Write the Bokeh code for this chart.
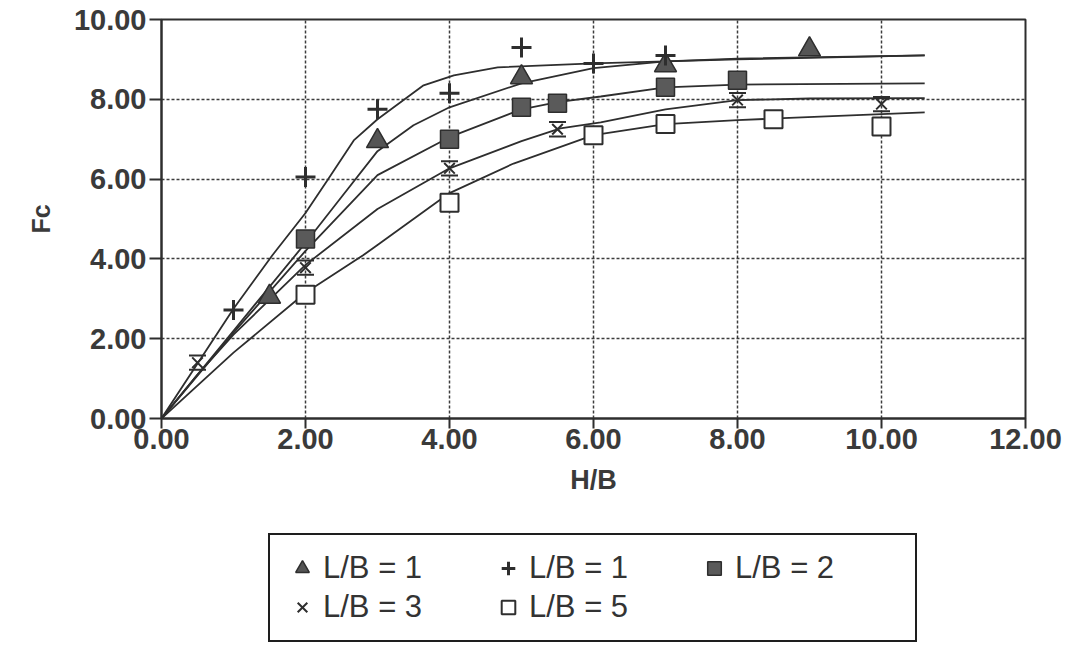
from bokeh.plotting import figure
from bokeh.layouts import column
from bokeh.models import Legend, LegendItem, FixedTicker, PrintfTickFormatter
from bokeh.embed import file_html
from bokeh.resources import INLINE

# ---- axes ----
x_ticks = [0, 2, 4, 6, 8, 10, 12]
y_ticks = [0, 2, 4, 6, 8, 10]

# ---- measured points ----
tri_x = [1.5, 3, 5, 7, 9]
tri_y = [3.05, 6.95, 8.55, 8.85, 9.25]
plus_x = [1, 2, 3, 4, 5, 6, 7]
plus_y = [2.72, 6.05, 7.75, 8.15, 9.3, 8.9, 9.1]
sqf_x = [2, 4, 5, 5.5, 7, 8]
sqf_y = [4.5, 7.0, 7.8, 7.9, 8.3, 8.48]
hg_x = [0.5, 2, 4, 5.5, 8, 10]
hg_y = [1.4, 3.78, 6.27, 7.25, 7.98, 7.88]
sqo_x = [2, 4, 6, 7, 8.5, 10]
sqo_y = [3.1, 5.41, 7.1, 7.38, 7.5, 7.32]

# ---- fitted curves ----
plus_fit_x = [0, 1, 1.54, 2, 2.3, 2.67, 3.0, 3.64, 4.06, 4.67, 6.0, 8.0, 10.6]
plus_fit_y = [0, 2.75, 4.09, 5.15, 5.96, 6.97, 7.5, 8.35, 8.6, 8.8, 8.9, 9.0, 9.1]
tri_fit_x = [0, 1, 1.5, 2, 2.5, 3, 3.5, 4, 5, 6, 7, 8, 10.6]
tri_fit_y = [0, 2.2, 3.3, 4.4, 5.55, 6.7, 7.35, 7.8, 8.4, 8.78, 8.95, 9.02, 9.1]
sqf_fit_x = [0, 1, 2, 3, 4, 5, 5.5, 6.1, 7, 8, 10.6]
sqf_fit_y = [0, 2.15, 4.2, 6.1, 7.05, 7.75, 7.93, 8.07, 8.3, 8.37, 8.4]
hg_fit_x = [0, 0.5, 1, 2, 3, 4, 5, 5.54, 6.1, 7, 8, 9, 10.6]
hg_fit_y = [0, 1.1, 2.1, 3.85, 5.25, 6.27, 6.95, 7.27, 7.42, 7.75, 7.98, 8.02, 8.03]
sqo_fit_x = [0, 1, 2, 2.8, 3, 4, 4.89, 6, 7, 8, 8.55, 10.6]
sqo_fit_y = [0, 1.65, 3.15, 4.09, 4.35, 5.65, 6.39, 7.1, 7.38, 7.48, 7.52, 7.67]

labels = ["L/B = 1", "L/B = 1", "L/B = 2", "L/B = 3", "L/B = 5"]

INK = "#2e2e2e"
FONT = "Liberation Sans"

p = figure(width=1072, height=518, x_range=(0, 12), y_range=(0, 10),
           output_backend="svg", toolbar_location=None, title=None,
           min_border_left=161, min_border_right=47, min_border_top=19,
           min_border_bottom=100, background_fill_color="white",
           border_fill_color="white")

p.outline_line_color = INK
p.outline_line_width = 2

# axes
for ax, ticks in ((p.xaxis[0], x_ticks), (p.yaxis[0], y_ticks)):
    ax.ticker = FixedTicker(ticks=ticks)
    ax.formatter = PrintfTickFormatter(format="%.2f")
    ax.major_label_text_font = FONT
    ax.major_label_text_font_style = "bold"
    ax.major_label_text_font_size = "29px"
    ax.major_label_text_color = "#3a3a3a"
    ax.axis_line_color = INK
    ax.axis_line_width = 2
    ax.major_tick_line_color = INK
    ax.major_tick_line_width = 2
    ax.major_tick_in = 0
    ax.minor_tick_line_color = None
    ax.axis_label_text_font = FONT
    ax.axis_label_text_font_style = "bold"
    ax.axis_label_text_color = "#3a3a3a"

p.xaxis[0].axis_label = "H/B"
p.xaxis[0].axis_label_text_font_size = "27px"
p.xaxis[0].major_tick_out = 10
p.xaxis[0].major_label_standoff = 0
p.xaxis[0].axis_label_standoff = 13

p.yaxis[0].axis_label = "Fc"
p.yaxis[0].axis_label_text_font_size = "25px"
p.yaxis[0].major_tick_out = 12
p.yaxis[0].major_label_standoff = 3
p.yaxis[0].axis_label_standoff = 16

for g, ticks in ((p.xgrid[0], x_ticks), (p.ygrid[0], y_ticks)):
    g.ticker = FixedTicker(ticks=ticks)
    g.grid_line_color = "#3c3c3c"
    g.grid_line_width = 1.5
    g.grid_line_dash = "3 2"

# fitted lines
for fx, fy in ((plus_fit_x, plus_fit_y), (tri_fit_x, tri_fit_y),
               (sqf_fit_x, sqf_fit_y), (hg_fit_x, hg_fit_y),
               (sqo_fit_x, sqo_fit_y)):
    p.line(fx, fy, line_color=INK, line_width=1.8)

# marker styles
tri_style = dict(marker="triangle", fill_color="#555555", line_color=INK, line_width=1.5)
plus_style = dict(marker="cross", line_color=INK, line_width=3)
sqf_style = dict(marker="square", fill_color="#5a5a5a", line_color=INK, line_width=1.5)
hg_style = dict(marker="x", line_color=INK, line_width=2)
sqo_style = dict(marker="square", fill_color="white", line_color=INK, line_width=2)

# markers on the chart
p.scatter(tri_x, tri_y, size=22, **tri_style)
p.scatter(plus_x, plus_y, size=20, **plus_style)
p.scatter(sqf_x, sqf_y, size=18, **sqf_style)
p.scatter(hg_x, hg_y, size=15, **hg_style)
p.scatter(hg_x, [v + 0.18 for v in hg_y], marker="dash", size=17,
          line_color=INK, line_width=2)
p.scatter(hg_x, [v - 0.18 for v in hg_y], marker="dash", size=17,
          line_color=INK, line_width=2)
p.scatter(sqo_x, sqo_y, size=18, **sqo_style)

# ---- legend panel (separate figure underneath, frame aligned with the chart) ----
lf = figure(width=1072, height=127, x_range=(100, 101), y_range=(100, 101),
            output_backend="svg", toolbar_location=None, title=None,
            x_axis_location=None, y_axis_location=None,
            min_border_left=0, min_border_right=0, min_border_top=0,
            min_border_bottom=0, background_fill_color="white",
            border_fill_color="white", outline_line_color=None)
lf.grid.visible = False

lr = [lf.scatter(tri_x, tri_y, **tri_style),
      lf.scatter(plus_x, plus_y, **plus_style),
      lf.scatter(sqf_x, sqf_y, **sqf_style),
      lf.scatter(hg_x, hg_y, **hg_style),
      lf.scatter(sqo_x, sqo_y, **sqo_style)]

legend = Legend(
    items=[LegendItem(label=lab, renderers=[r]) for lab, r in zip(labels, lr)],
    location=(107, 3), orientation="horizontal", ncols=3, margin=0,
    glyph_width=34, glyph_height=34, label_height=34, label_width=165,
    label_standoff=4, spacing=3, padding=15,
    label_text_font=FONT, label_text_font_size="31px",
    label_text_color="#333333",
    border_line_color="#1e1e1e", border_line_width=2, border_line_alpha=1.0,
    background_fill_color="white", background_fill_alpha=1.0,
)
lf.add_layout(legend)

layout = column(p, lf, spacing=0)
open("out.html", "w").write(file_html(layout, INLINE))
